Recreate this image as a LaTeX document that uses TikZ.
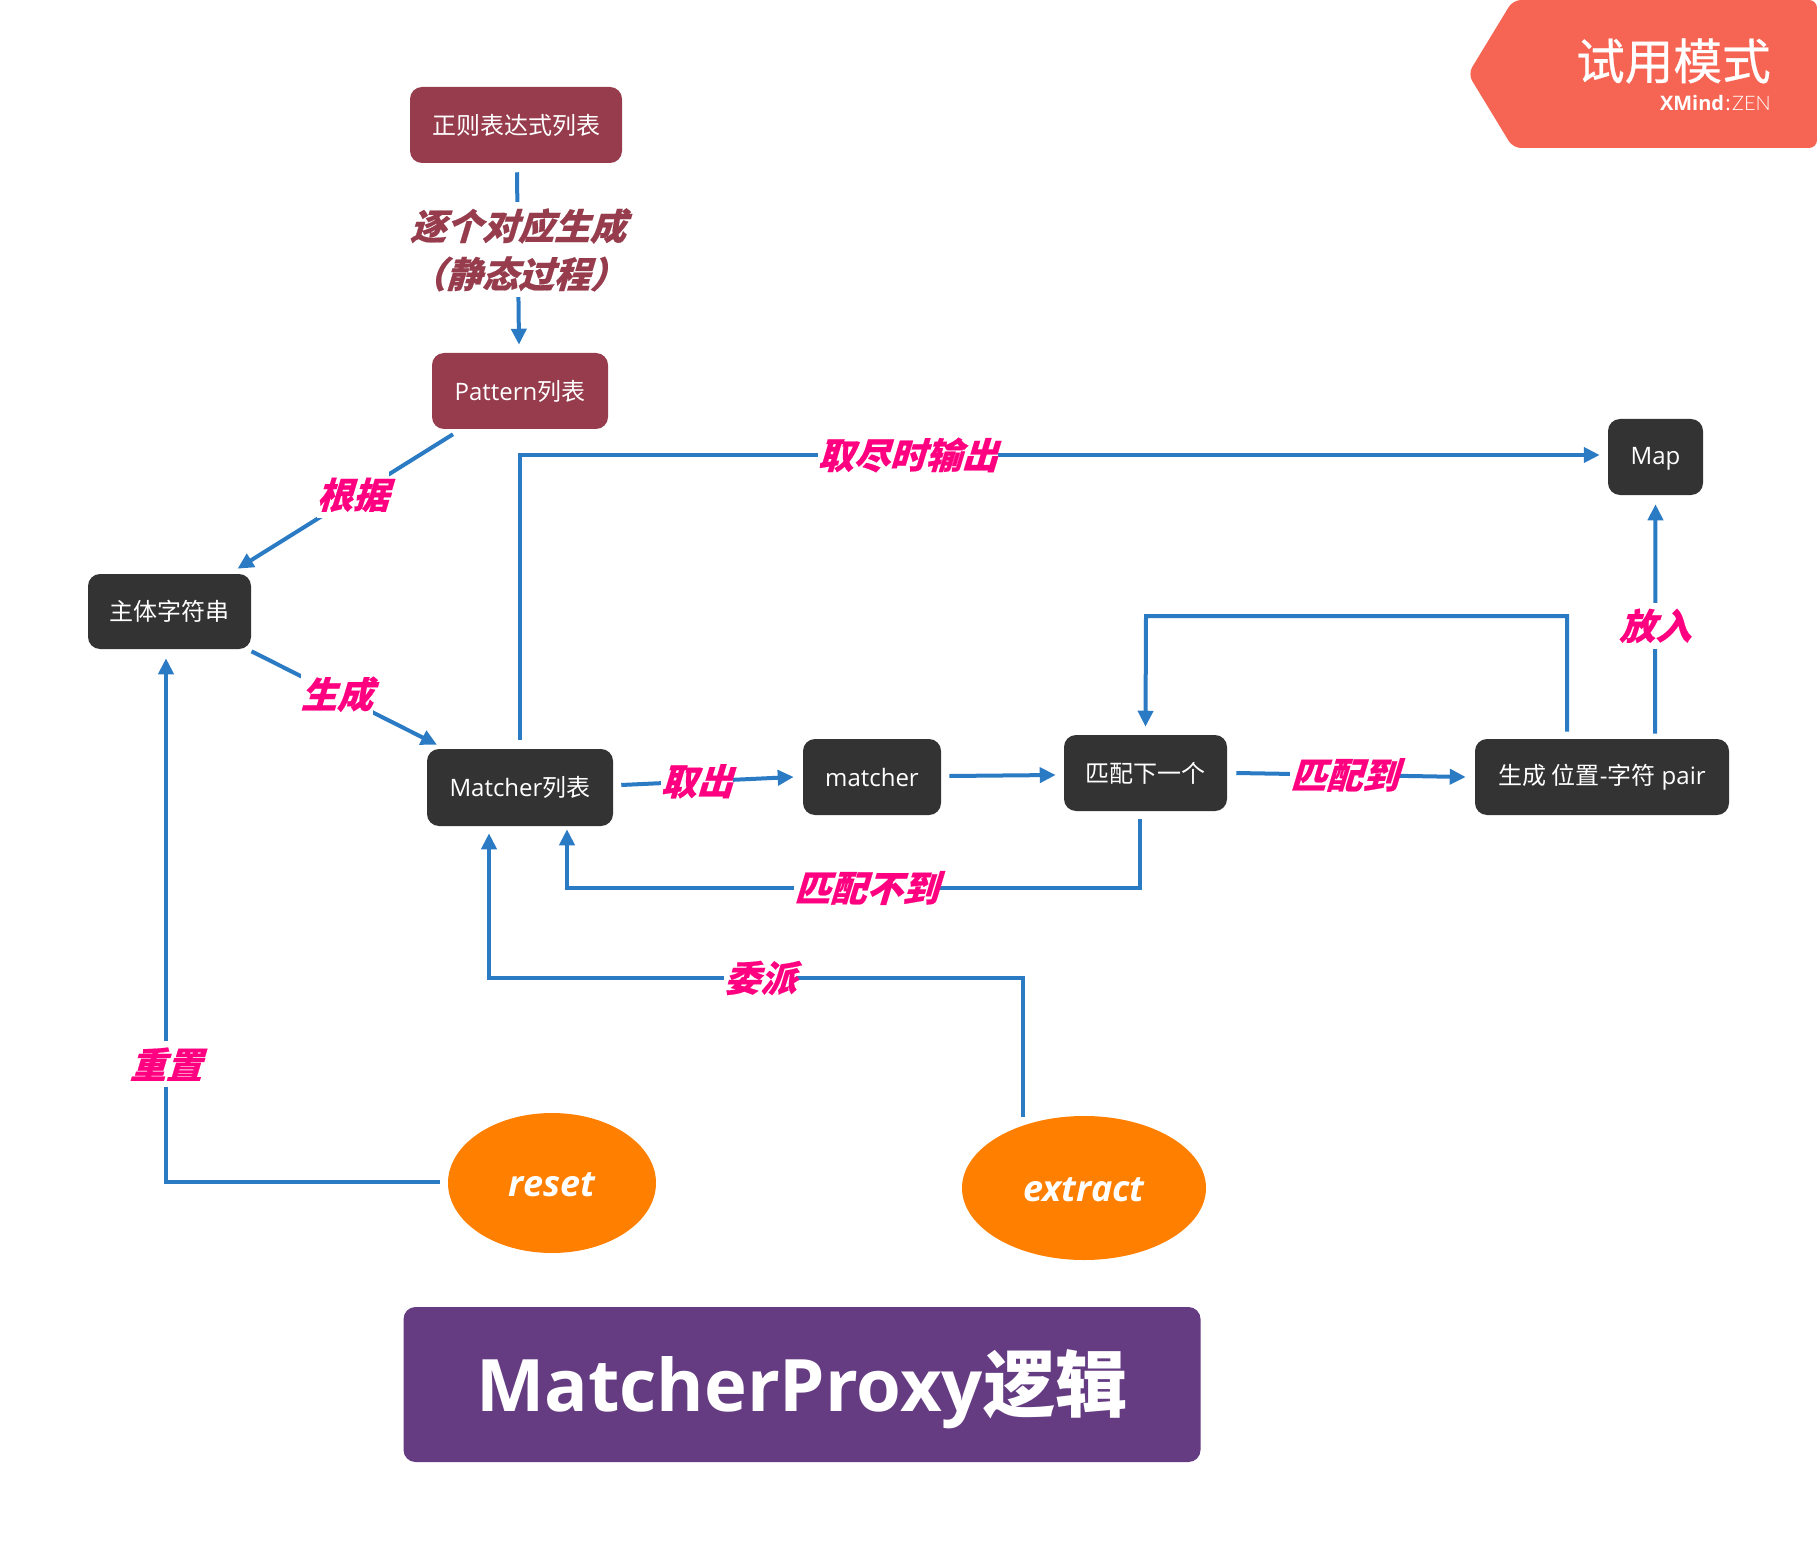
\documentclass[tikz,border=0pt]{standalone}
\usepackage{fontspec}
\setmainfont{Open Sans}
\newfontfamily\cjk{Noto Sans CJK SC}
\newfontfamily\cjkbi{Noto Sans CJK SC}[FakeSlant=0.3,FakeBold=0.5]
\newfontfamily\cjkmed{Noto Sans CJK SC}[FakeBold=0.6]
\newfontfamily\thinlat{Lato Light}
\newcommand{\nudge}[2]{\raisebox{#1}[\height][\depth]{#2}}
\usetikzlibrary{arrows.meta,shapes.geometric,positioning}
\definecolor{wine}{HTML}{963C4D}
\definecolor{dark}{HTML}{333333}
\definecolor{flow}{HTML}{2B7BC4}
\definecolor{hot}{HTML}{FF0080}
\definecolor{amber}{HTML}{FF8000}
\definecolor{plum}{HTML}{653C82}
\definecolor{coral}{HTML}{F66553}
\tikzset{
  x=0.75pt,y=-0.75pt,
  box/.style={rectangle,rounded corners=9pt,inner sep=0pt,text=white,font=\fontsize{18}{22}\selectfont},
  winebox/.style={box,fill=wine},
  darkbox/.style={box,fill=dark},
  oval/.style={ellipse,inner sep=0pt,fill=amber,text=white,font=\fontsize{27}{32}\selectfont\bfseries\itshape},
  conn/.style={draw=flow,line width=3pt,-{Triangle[length=12pt,width=11.25pt]}},
  lbl/.style={fill=white,inner sep=0pt,minimum height=34.5pt,text=hot,font=\fontsize{27}{32}\selectfont\cjkbi\bfseries},
  lblh/.style={lbl,xshift=-2.5pt},
  winelbl/.style={fill=white,inner sep=0pt,text=wine,align=center,font=\fontsize{27}{36}\selectfont\cjkbi\bfseries},
}
\begin{document}
\begin{tikzpicture}
\useasboundingbox (0,0) rectangle (1817,1551);
% badge
\fill[coral,rounded corners=6pt] (1513,-0) -- (1817,0) -- (1817,148) -- (1513,148) -- (1468,74) -- cycle;
\node[anchor=east,inner sep=0pt,text=white,font=\fontsize{36.5}{40}\selectfont\cjkmed] (trial) at (1771,61) {试用模式};
\node[anchor=east,inner sep=0pt,text=white,font=\fontsize{15}{17}\selectfont] (brand) at (1771,103) {\textbf{XMind}\kern1pt:\kern1pt{\thinlat ZEN}};
% nodes
\node[winebox,minimum width=212*0.75,minimum height=76*0.75] (re) at (516,125) {\cjk 正则表达式列表};
\node[winebox,minimum width=176*0.75,minimum height=76*0.75] (pattern) at (520,391) {Pattern{\cjk 列表}};
\node[darkbox,minimum width=163*0.75,minimum height=75*0.75] (subject) at (169.5,611.5) {\cjk 主体字符串};
\node[darkbox,minimum width=186*0.75,minimum height=77*0.75] (list) at (520,787.5) {Matcher{\cjk 列表}};
\node[darkbox,minimum width=138*0.75,minimum height=76*0.75] (matcher) at (872,777) {matcher};
\node[darkbox,minimum width=163*0.75,minimum height=76*0.75] (next) at (1145.5,773) {\cjk 匹配下一个};
\node[darkbox,minimum width=254*0.75,minimum height=76*0.75] (pair) at (1602,777) {{\cjk 生成 位置}-{\cjk 字符} pair};
\node[darkbox,minimum width=95*0.75,minimum height=76*0.75] (map) at (1655.5,457) {\nudge{-1.7pt}{Map}};
\node[oval,minimum width=208*0.75,minimum height=140*0.75] (reset) at (552,1183) {\nudge{-1pt}{reset}};
\node[oval,minimum width=244*0.75,minimum height=144*0.75] (extract) at (1084,1188) {\nudge{-1pt}{extract}};
\node[rectangle,rounded corners=9pt,fill=plum,text=white,inner sep=0pt,minimum width=797*0.75,minimum height=155*0.75,font=\fontsize{54.3}{60}\selectfont\bfseries] (title) at (802,1384.5) {\nudge{-3.5pt}{MatcherProxy{\cjk 逻辑}}};
% bends
\coordinate (a1) at (520,455);
\coordinate (b1) at (1567,616);
\coordinate (b2) at (1146,616);
\coordinate (c1) at (1140,888);
\coordinate (c2) at (567,888);
\coordinate (d1) at (1023,978);
\coordinate (d2) at (489,978);
\coordinate (e1) at (166,1182);
% connectors
\draw[conn] ([shift={(1,9)}]re.south) -- node[winelbl,pos=0.45,minimum height=95*0.75]{逐个对应生成\\（静态过程）} ([shift={(-1,-8)}]pattern.north);
\draw[conn] ([shift={(-67,5)}]pattern.south) -- node[lblh,pos=0.45]{根据} ([shift={(68,-5)}]subject.north);
\draw[conn] ([shift={(82,2)}]subject.south) -- node[lbl,pos=0.46]{生成} ([shift={(-83,-4)}]list.north);
\draw[conn] ([shift={(0,-9)}]list.north) -- (a1) -- node[lblh,pos=0.362]{取尽时输出} ([shift={(-8,-2)}]map.west);
\draw[conn] ([shift={(8,-2.5)}]list.east) -- node[lblh,pos=0.456]{取出} ([shift={(-9,0)}]matcher.west);
\draw[conn] ([shift={(8,-1)}]matcher.east) -- ([shift={(-8,2)}]next.west);
\draw[conn] ([shift={(9,0)}]next.east) -- node[lblh,pos=0.485]{匹配到} ([shift={(-9,0)}]pair.west);
\draw[conn] ([shift={(-35,-7)}]pair.north) -- (b1) -- (b2) -- ([shift={(0,-8)}]next.north);
\draw[conn] ([shift={(53,-5)}]pair.north) -- node[lbl,pos=0.47]{放入} ([shift={(0,9)}]map.south);
\draw[conn] ([shift={(-5.5,8)}]next.south) -- (c1) -- node[lblh,pos=0.472]{匹配不到} (c2) -- ([shift={(47,3)}]list.south);
\draw[conn] ([shift={(-61,1)}]extract.north) -- (d1) -- node[lblh,pos=0.486]{委派} (d2) -- ([shift={(-31,7)}]list.south);
\draw[conn] ([shift={(-8,-1)}]reset.west) -- (e1) -- node[lbl,pos=0.225]{重置} ([shift={(-3.5,9)}]subject.south);
\end{tikzpicture}
\end{document}
